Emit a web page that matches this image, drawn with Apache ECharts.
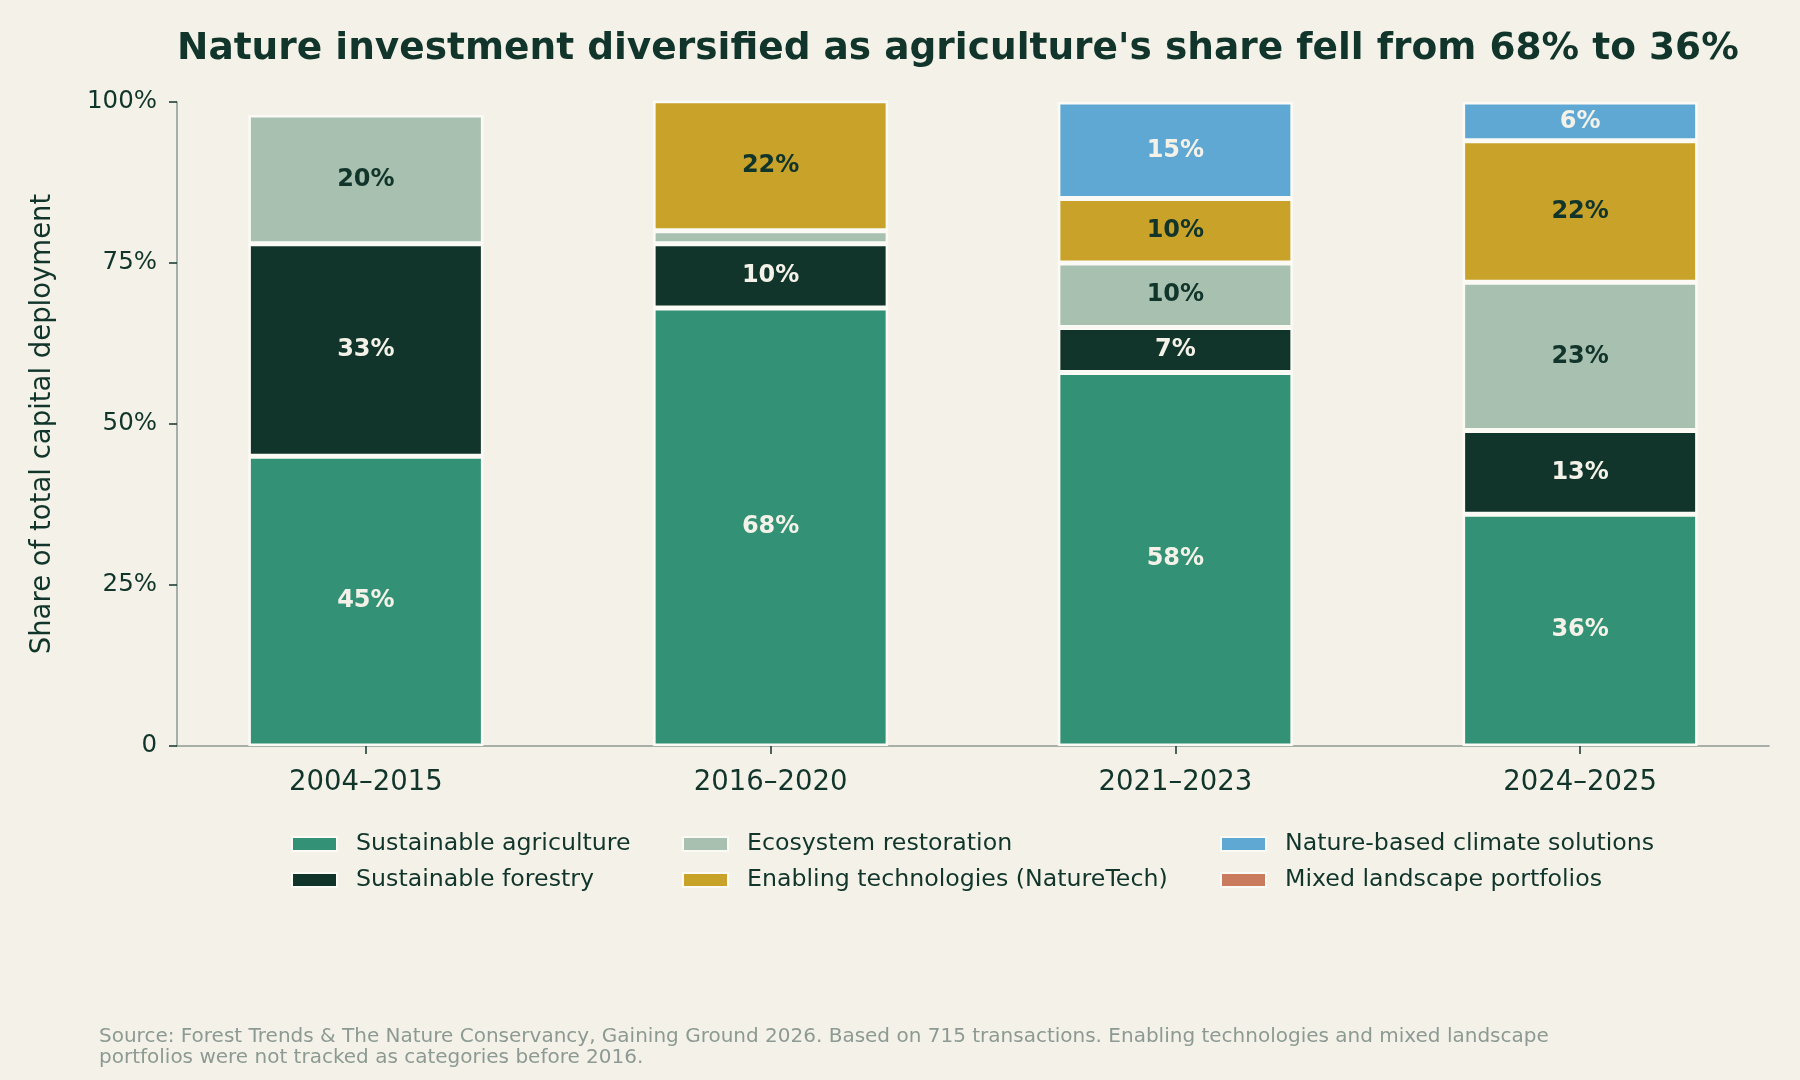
<!DOCTYPE html>
<html>
<head>
<meta charset="utf-8">
<script src="https://cdn.jsdelivr.net/npm/echarts@6/dist/echarts.min.js"></script>
<style>
html,body{margin:0;padding:0;background:#f4f2e8;}
#chart{width:1800px;height:1080px;}
</style>
</head>
<body>
<div id="chart"></div>
<script>
const periods = ['2004–2015', '2016–2020', '2021–2023', '2024–2025'];
const seriesNames = [
  'Sustainable agriculture',
  'Sustainable forestry',
  'Ecosystem restoration',
  'Enabling technologies (NatureTech)',
  'Nature-based climate solutions',
  'Mixed landscape portfolios'
];
const agriculture = [45, 68, 58, 36];
const forestry = [33, 10, 7, 13];
const restoration = [20, 2, 10, 23];
const enablingTech = [null, 22, 10, 22];
const natureBased = [null, null, 15, 6];
const mixedLandscape = [null, null, null, null];
const yTicks = [0, 25, 50, 75, 100];

const colors = ['#339276', '#11352b', '#a8c0b0', '#c9a229', '#5fa8d4', '#c97c5d'];
const labelColors = ['#f4f2e8', '#f4f2e8', '#11352b', '#11352b', '#f4f2e8', '#f4f2e8'];
const allValues = [agriculture, forestry, restoration, enablingTech, natureBased, mixedLandscape];

const FONT = 'DejaVu Sans';
const DARK = '#11352b';
const AXIS_GRAY = '#8c9a93';

const series = seriesNames.map((name, s) => ({
  name: name,
  type: 'bar',
  stack: 'total',
  xAxisIndex: 0,
  yAxisIndex: 0,
  barWidth: 235,
  clip: true,
  data: allValues[s],
  itemStyle: { color: colors[s], borderColor: '#fbfaf5', borderWidth: 2.5 },
  label: {
    show: true,
    position: 'inside',
    fontFamily: FONT,
    fontWeight: 'bold',
    fontSize: 24,
    color: labelColors[s],
    formatter: p => (p.value != null && p.value >= 5) ? p.value + '%' : ''
  },
  emphasis: { disabled: true }
}));

function legendBlock(names, left) {
  return {
    orient: 'vertical',
    left: left,
    top: 832,
    padding: 0,
    icon: 'rect',
    itemWidth: 45,
    itemHeight: 14,
    itemGap: 12,
    data: names,
    selectedMode: false,
    textStyle: { fontFamily: FONT, fontSize: 23.7, lineHeight: 24, color: DARK, padding: [0, 0, 0, 14] }
  };
}

const chart = echarts.init(document.getElementById('chart'), null, { renderer: 'canvas' });
chart.setOption({
  backgroundColor: '#f4f2e8',
  animation: false,
  title: [
    {
      text: "Nature investment diversified as agriculture's share fell from 68% to 36%",
      left: 177,
      top: 30,
      padding: 0,
      textStyle: { fontFamily: FONT, fontWeight: 'bold', fontSize: 37.5, color: DARK }
    },
    {
      text: 'Source: Forest Trends & The Nature Conservancy, Gaining Ground 2026. Based on 715 transactions. Enabling technologies and mixed landscape\nportfolios were not tracked as categories before 2016.',
      left: 99,
      top: 1026,
      padding: 0,
      textStyle: { fontFamily: FONT, fontWeight: 'normal', fontSize: 20, lineHeight: 21, color: AXIS_GRAY }
    }
  ],
  legend: [
    legendBlock([seriesNames[0], seriesNames[1]], 291),
    legendBlock([seriesNames[2], seriesNames[3]], 682),
    legendBlock([seriesNames[4], seriesNames[5]], 1220)
  ],
  grid: [
    { left: 163.5, right: 17.5, top: 102, bottom: 334, containLabel: false },
    { left: 177, right: 31, top: 102, bottom: 334, containLabel: false }
  ],
  xAxis: [
    {
      type: 'category',
      gridIndex: 0,
      data: periods,
      axisLine: { show: false },
      axisTick: { show: true, alignWithLabel: true, length: 8, lineStyle: { color: DARK, width: 1.5 } },
      axisLabel: { fontFamily: FONT, fontSize: 27.5, color: DARK, margin: 23 },
      splitLine: { show: false }
    },
    {
      type: 'value',
      gridIndex: 1,
      min: 0,
      max: 1,
      axisLine: { show: true, onZero: false, lineStyle: { color: AXIS_GRAY, width: 1.5 } },
      axisTick: { show: false },
      axisLabel: { show: false },
      splitLine: { show: false }
    }
  ],
  yAxis: [
    {
      type: 'value',
      gridIndex: 0,
      min: 0,
      max: 100,
      show: false
    },
    {
      type: 'value',
      gridIndex: 1,
      min: 0,
      max: 100,
      interval: 25,
      name: 'Share of total capital deployment',
      nameLocation: 'middle',
      nameGap: 120,
      nameTextStyle: { fontFamily: FONT, fontSize: 27.5, color: DARK },
      splitLine: { show: false },
      axisLine: { show: true, onZero: false, lineStyle: { color: AXIS_GRAY, width: 1.5 } },
      axisTick: { show: true, length: 8, lineStyle: { color: DARK, width: 1.5 } },
      axisLabel: {
        formatter: v => yTicks.includes(v) ? (v === 0 ? '0' : v + '%') : '',
        fontFamily: FONT, fontSize: 24.5, color: DARK, margin: 20, padding: [4, 0, 0, 0]
      }
    }
  ],
  series: series
});
</script>
</body>
</html>
